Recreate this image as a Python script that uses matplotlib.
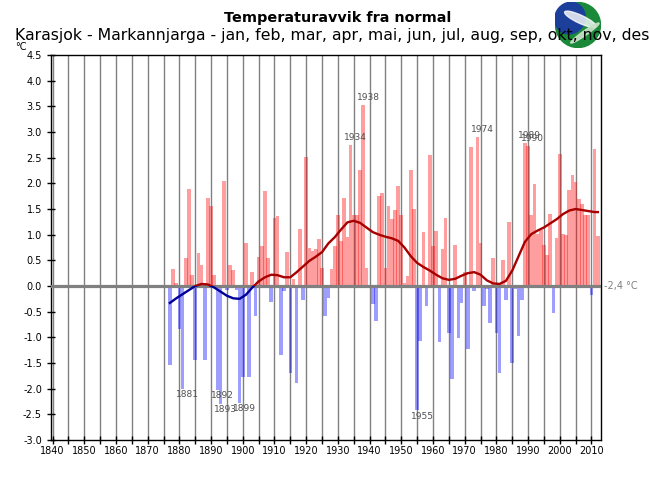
import matplotlib
matplotlib.use("Agg")
import matplotlib.pyplot as plt
from matplotlib.patches import Rectangle, Circle, Ellipse
from matplotlib.ticker import MultipleLocator, FormatStrFormatter

# annual temperature deviation from normal (deg C), 1877-2012
YEAR_START = 1877
VALUES = [
    -1.54, 0.33, 0.05,
    -0.84, -2.00, 0.55, 1.88, 0.22, -1.45, 0.64, 0.40, -1.45, 1.71,
    1.56, 0.22, -2.02, -2.30, 2.05, -0.08, 0.40, 0.32, -0.07, -2.27,
    -1.77, 0.83, -1.78, 0.27, -0.59, 0.57, 0.77, 1.86, 0.55, -0.31,
    1.32, 1.36, -1.34, -0.09, 0.66, -1.69, 0.14, -1.88, 1.11, -0.27,
    2.51, 0.75, 0.68, 0.72, 0.92, 0.36, -0.58, -0.23, 0.33, 0.77,
    1.38, 0.88, 1.72, 0.95, 2.75, 1.38, 1.38, 2.26, 3.53, 0.36,
    -0.03, -0.36, -0.69, 1.75, 1.82, 0.36, 1.55, 1.30, 1.48, 1.95,
    1.38, 0.05, 0.19, 2.26, 1.50, -2.42, -1.08, 1.05, -0.38, 2.55,
    0.77, 1.07, -1.10, 0.72, 1.33, -0.91, -1.82, 0.80, -1.01, -0.34,
    0.27, -1.23, 2.71, -0.09, 2.91, 0.83, -0.38, -0.05, -0.73, 0.55,
    -0.91, -1.70, 0.51, -0.27, 1.25, -1.50, -0.05, -0.97, -0.27, 2.79,
    2.73, 1.38, 1.99, 1.01, 1.09, 0.80, 0.60, 1.40, -0.52, 0.94,
    2.58, 1.01, 0.99, 1.87, 2.16, 2.03, 1.69, 1.60, 1.38, 1.38,
    -0.17, 2.66, 0.97,
]
YEARS = list(range(YEAR_START, YEAR_START + len(VALUES)))

# smoothed curve
CURVE_YEARS = [1877, 1879, 1881, 1883, 1885, 1887, 1889, 1891, 1893, 1895,
               1897, 1899, 1901, 1903, 1905, 1907, 1909, 1911, 1913, 1915,
               1917, 1919, 1921, 1923, 1925, 1927, 1929, 1931, 1933, 1935,
               1937, 1939, 1941, 1943, 1945, 1947, 1949, 1951, 1953, 1955,
               1957, 1959, 1961, 1963, 1965, 1967, 1969, 1971, 1973, 1975,
               1977, 1979, 1981, 1983, 1985, 1987, 1989, 1991, 1993, 1995,
               1997, 1999, 2001, 2003, 2005, 2007, 2009, 2011, 2012]
CURVE_VALUES = [-0.33, -0.24, -0.16, -0.08, 0.00, 0.04, 0.03, -0.03, -0.11, -0.19,
                -0.24, -0.25, -0.17, -0.03, 0.09, 0.17, 0.22, 0.21, 0.17, 0.17,
                0.27, 0.38, 0.49, 0.57, 0.66, 0.83, 0.95, 1.10, 1.24, 1.27,
                1.23, 1.14, 1.05, 1.00, 0.96, 0.93, 0.88, 0.75, 0.58, 0.45,
                0.37, 0.30, 0.22, 0.15, 0.12, 0.14, 0.20, 0.25, 0.27, 0.22,
                0.11, 0.05, 0.04, 0.10, 0.30, 0.58, 0.86, 1.01, 1.08, 1.14,
                1.22, 1.30, 1.40, 1.47, 1.50, 1.48, 1.46, 1.44, 1.44]

LABEL_YEARS = [1881, 1892, 1893, 1899, 1934, 1938, 1955, 1974, 1989, 1990]

fig = plt.figure(figsize=(6.5, 5), dpi=100)
ax = fig.add_axes([51 / 650, 60 / 500, 550 / 650, 385 / 500])

colors = ["#ff0000" if v >= 0 else "#0000ff" for v in VALUES]
ax.bar(YEARS, VALUES, width=1.15, color=colors, alpha=0.38, linewidth=0, zorder=2)

ax.axhline(0, color="#808080", lw=2.3, zorder=3)

pos_line, = ax.plot(CURVE_YEARS, CURVE_VALUES, color="#a80000", lw=1.7, zorder=4)
neg_line, = ax.plot(CURVE_YEARS, CURVE_VALUES, color="#000099", lw=1.7, zorder=4)
pos_line.set_clip_path(Rectangle((1800, 0), 300, 10, transform=ax.transData))
neg_line.set_clip_path(Rectangle((1800, -10), 300, 10, transform=ax.transData))

for yr in LABEL_YEARS:
    v = VALUES[yr - YEAR_START]
    if v > 0:
        ax.annotate(str(yr), (yr, v), xytext=(3.5, 2), textcoords="offset points",
                    ha="center", va="bottom", fontsize=6.5, color="#505050")
    else:
        ax.annotate(str(yr), (yr, v), xytext=(3.5, -1), textcoords="offset points",
                    ha="center", va="top", fontsize=6.5, color="#505050")

ax.text(1.006, 0, "-2,4 °C", transform=ax.get_yaxis_transform(), ha="left",
        va="center", fontsize=7, color="#808080")

ax.set_xlim(1839.5, 2013.0)
ax.set_ylim(-3.0, 4.5)
ax.xaxis.set_major_locator(MultipleLocator(10))
ax.xaxis.set_minor_locator(MultipleLocator(5))
ax.yaxis.set_major_locator(MultipleLocator(0.5))
ax.yaxis.set_major_formatter(FormatStrFormatter("%.1f"))
ax.grid(True, axis="x", which="both", color="#808080", lw=1, zorder=1)
ax.set_axisbelow(True)
ax.tick_params(axis="both", which="both", direction="inout", length=6, width=1,
               labelsize=7, colors="black")
ax.tick_params(axis="x", which="major", pad=1)
for s in ax.spines.values():
    s.set_color("black")
    s.set_linewidth(1)

fig.text(338 / 650, 1 - 18 / 500, "Temperaturavvik fra normal", ha="center",
         va="center", fontsize=10.4, fontweight="bold")
fig.text(15 / 650, 1 - 35 / 500,
         "Karasjok - Markannjarga - jan, feb, mar, apr, mai, jun, jul, aug, sep, okt, nov, des",
         ha="left", va="center", fontsize=11.3)
fig.text(15 / 650, 1 - 47 / 500, "°C", ha="left", va="center", fontsize=7)

# logo
lax = fig.add_axes([555 / 650, 1 - 48 / 500, 46 / 650, 46 / 500])
lax.set_xlim(-1, 1)
lax.set_ylim(-1, 1)
lax.set_aspect("equal")
lax.axis("off")
lax.add_patch(Circle((0, 0), 0.98, color="#1a8a3a"))
lax.add_patch(Ellipse((-0.35, 0.3), 1.3, 1.4, angle=-30, color="#1c3f9c"))
lax.add_patch(Ellipse((0.1, 0.25), 1.5, 0.35, angle=-25, color="white", alpha=0.8))
lax.add_patch(Ellipse((0.3, -0.35), 1.5, 0.2, angle=35, color="#c8e0c8", alpha=0.9))

fig.savefig("out.png", dpi=100)
